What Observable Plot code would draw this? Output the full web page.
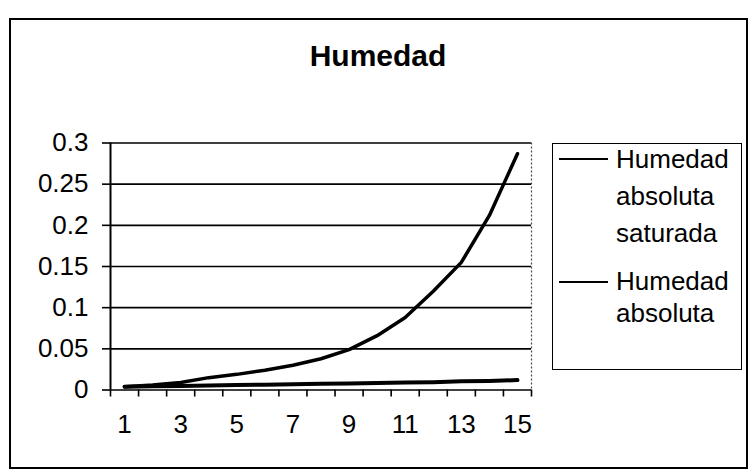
<!DOCTYPE html>
<html>
<head>
<meta charset="utf-8">
<script src="https://cdn.jsdelivr.net/npm/d3@7"></script>
<script src="https://cdn.jsdelivr.net/npm/@observablehq/plot@0.6"></script>
<style>
  html, body { margin: 0; padding: 0; background: #fff; }
  #wrap { position: relative; width: 749px; height: 470px; overflow: hidden; background: #fff;
          font-family: "Liberation Sans", Arial, Helvetica, sans-serif; color: #000; }
  #frame { position: absolute; left: 9px; top: 18px; width: 735px; height: 447px; border: 2px solid #000; }
  #title { position: absolute; left: 178px; width: 400px; top: 41px; text-align: center;
           font-size: 30px; font-weight: bold; line-height: 30px; }
  #chart { position: absolute; left: 0; top: 0; }
  #legend { position: absolute; left: 552px; top: 143px; width: 188px; height: 225px; border: 1.5px solid #000; background: #fff; }
  .entry { position: absolute; left: 63px; font-size: 26px; white-space: nowrap; }
  .swatch { position: absolute; left: 6px; width: 49px; height: 0; border-top: 2px solid #000; }
</style>
</head>
<body>
<div id="wrap">
  <div id="frame"></div>
  <div id="title"></div>
  <div id="chart"></div>
  <div id="legend"></div>
</div>
<script>
const title = "Humedad";
const categories = [1, 2, 3, 4, 5, 6, 7, 8, 9, 10, 11, 12, 13, 14, 15];
const seriesNames = ["Humedad absoluta saturada", "Humedad absoluta"];
const saturada = [0.004, 0.006, 0.009, 0.015, 0.019, 0.024, 0.030, 0.038, 0.049, 0.066, 0.088, 0.120, 0.155, 0.212, 0.287];
const absoluta = [0.004, 0.0045, 0.005, 0.0055, 0.006, 0.0065, 0.007, 0.0075, 0.008, 0.0085, 0.009, 0.0095, 0.0105, 0.011, 0.012];
const yTicks = [0, 0.05, 0.1, 0.15, 0.2, 0.25, 0.3];
const yTickLabels = ["0", "0.05", "0.1", "0.15", "0.2", "0.25", "0.3"];
const xTickLabels = [1, 3, 5, 7, 9, 11, 13, 15];

// category boundaries (Excel-style ticks between categories)
const boundaries = [categories[0] - 0.5, ...categories.map(c => c + 0.5)];
const xMin = boundaries[0], xMax = boundaries[boundaries.length - 1];

const rows = [];
categories.forEach((c, i) => {
  rows.push({x: c, y: saturada[i], s: seriesNames[0]});
  rows.push({x: c, y: absoluta[i], s: seriesNames[1]});
});

document.getElementById("title").textContent = title;

const chart = Plot.plot({
  width: 749,
  height: 470,
  marginLeft: 110,
  marginRight: 218,
  marginTop: 142.5,
  marginBottom: 80.5,
  style: {fontFamily: '"Liberation Sans", Arial, sans-serif', fontSize: "26px", color: "#000", background: "transparent", overflow: "visible"},
  x: {type: "linear", domain: [xMin, xMax]},
  y: {domain: [0, 0.3]},
  marks: [
    Plot.ruleY(yTicks, {stroke: "#000", strokeWidth: 1.6}),
    Plot.ruleX([xMax], {stroke: "#444", strokeWidth: 1.2, strokeDasharray: "2,2"}),
    Plot.axisY({ticks: yTicks, tickSize: 8, tickPadding: 14, strokeWidth: 1.6, fontSize: 26,
                tickFormat: d => yTickLabels[yTicks.indexOf(d)], label: null}),
    Plot.axisX({ticks: boundaries, tickSize: 7, strokeWidth: 1.6, tickFormat: () => "", label: null}),
    Plot.axisX({ticks: xTickLabels, tickSize: 0, tickPadding: 25, fontSize: 26, tickFormat: d => String(d), label: null}),
    Plot.ruleX([xMin], {stroke: "#000", strokeWidth: 2}),
    Plot.lineY(rows.filter(d => d.s === seriesNames[1]), {x: "x", y: "y", stroke: "#000", strokeWidth: 4}),
    Plot.lineY(rows.filter(d => d.s === seriesNames[0]), {x: "x", y: "y", stroke: "#000", strokeWidth: 3.5})
  ]
});
document.getElementById("chart").appendChild(chart);

// legend
const legend = document.getElementById("legend");
const entries = [
  {lines: ["Humedad", "absoluta", "saturada"], top: -3, lh: 37, sw: 14},
  {lines: ["Humedad", "absoluta"], top: 121, lh: 32, sw: 137}
];
entries.forEach(e => {
  const sw = document.createElement("div");
  sw.className = "swatch";
  sw.style.top = e.sw + "px";
  legend.appendChild(sw);
  const t = document.createElement("div");
  t.className = "entry";
  t.style.top = e.top + "px";
  t.style.lineHeight = e.lh + "px";
  t.innerHTML = e.lines.join("<br>");
  legend.appendChild(t);
});
</script>
</body>
</html>
